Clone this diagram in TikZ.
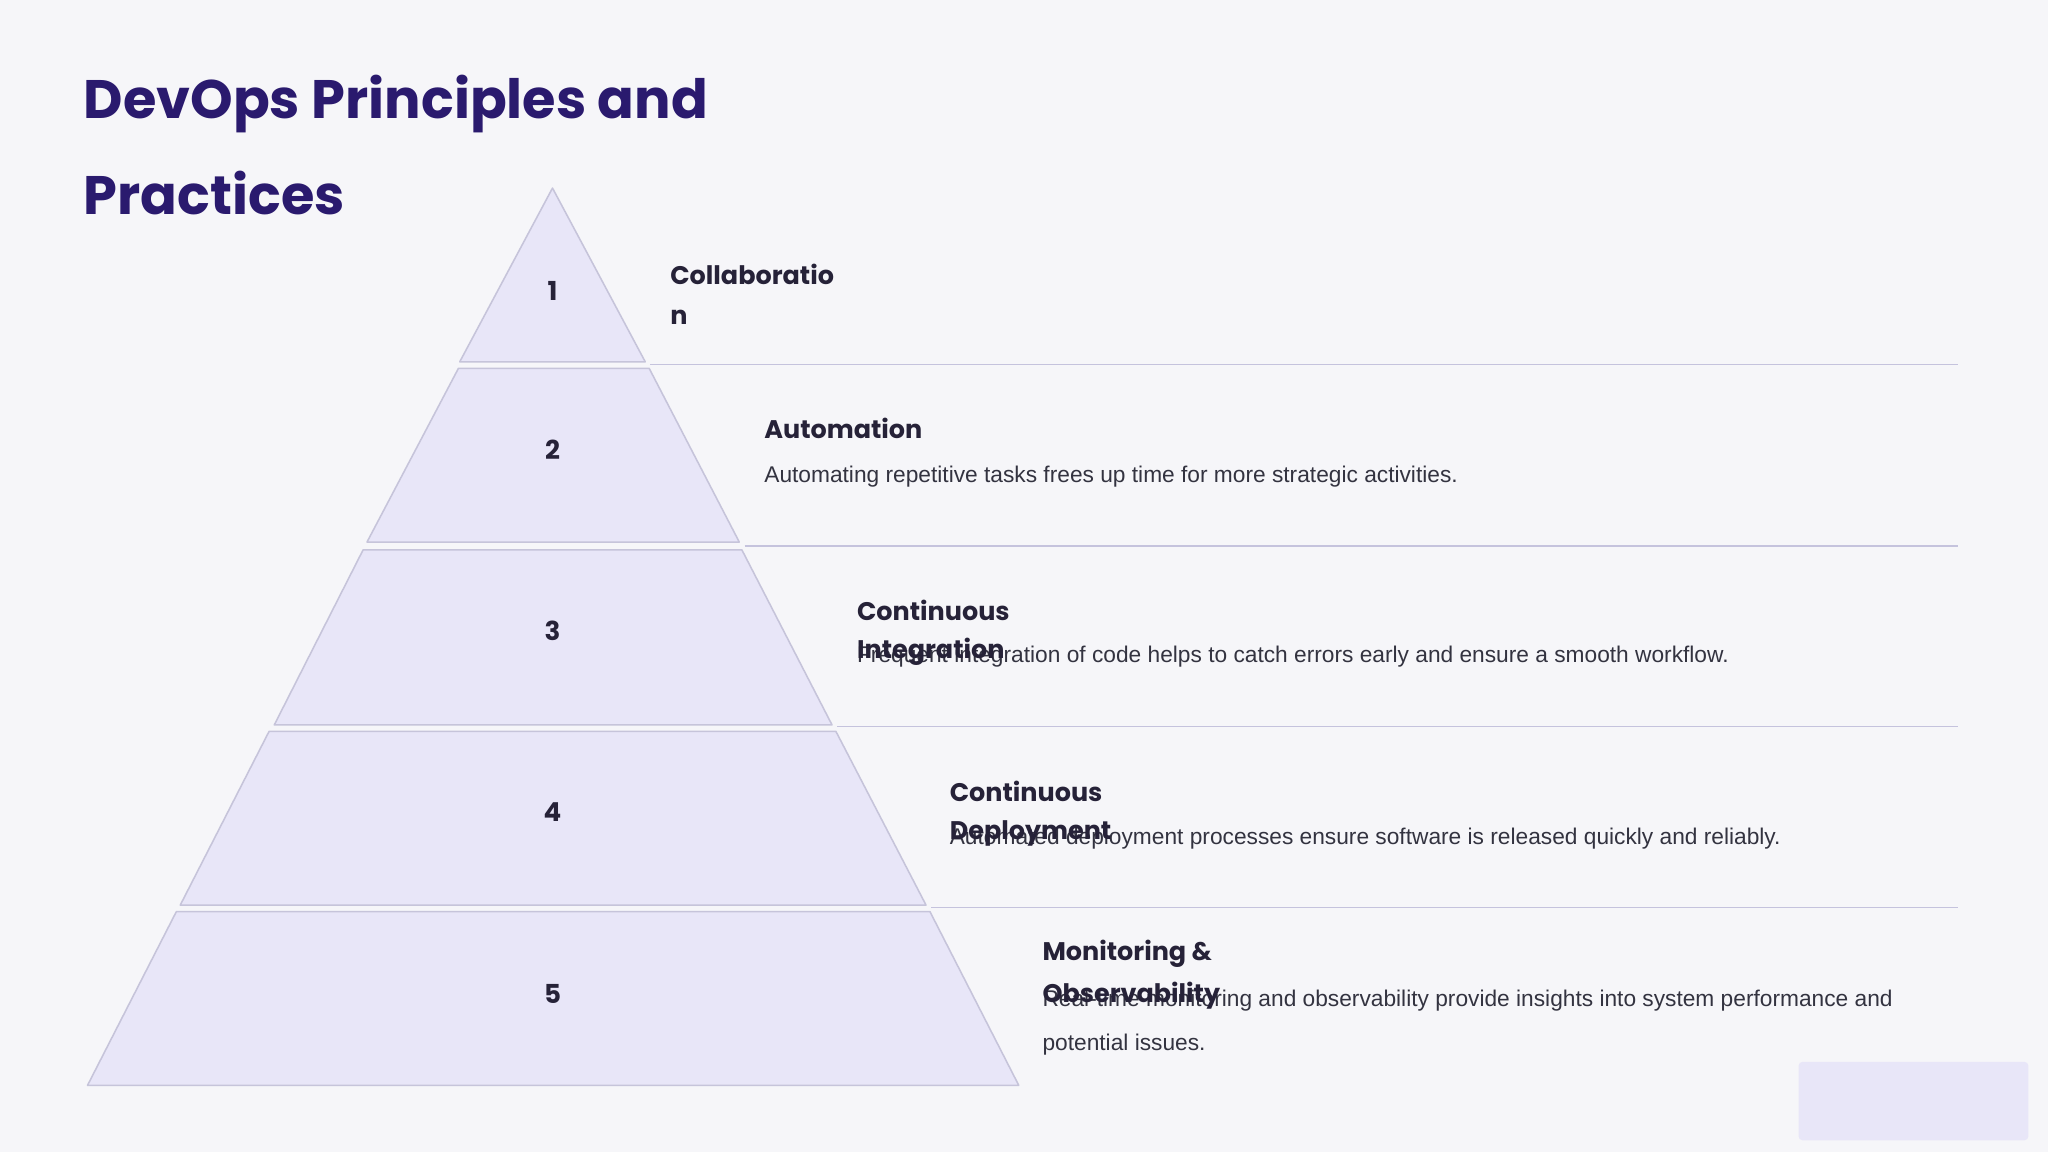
\documentclass[tikz,border=0pt]{standalone}
\usepackage{fontspec}
\setmainfont{Liberation Sans}
\newfontfamily\pop{Poppins}
\definecolor{bg}{HTML}{F6F6F9}
\definecolor{tit}{HTML}{2A1A6E}
\definecolor{hd}{HTML}{262238}
\definecolor{lay}{HTML}{E8E6F8}
\definecolor{lays}{HTML}{C6C4DA}
\definecolor{sep}{HTML}{C5C3DD}
\definecolor{tx}{HTML}{333340}
\begin{document}
\begin{tikzpicture}[x=1pt,y=-1pt,
  layer/.style={fill=lay,draw=lays,line width=1.2pt,line join=round},
  num/.style={font=\pop\bfseries\fontsize{20}{24}\selectfont,text=hd},
  head/.style={anchor=west,inner sep=0,font=\pop\bfseries\fontsize{19.5}{24}\selectfont,text=hd},
  desc/.style={anchor=west,inner sep=0,font=\fontsize{17.4}{20}\selectfont,text=tx},
  sepl/.style={draw=sep,line width=1pt}]
\fill[bg] (0,0) rectangle (1568,882);
\useasboundingbox (0,0) rectangle (1568,882);
\node[anchor=west,inner sep=0,font=\pop\bfseries\fontsize{41.5}{50}\selectfont,text=tit] (t1) at (64,80) {DevOps Principles and};
\node[anchor=west,inner sep=0,font=\pop\bfseries\fontsize{41.5}{50}\selectfont,text=tit] (t2) at (64,148) {Practices};
\draw[layer] (423,144) -- (494,277) -- (352,277) -- cycle;
\draw[layer] (351,282) -- (497,282) -- (566,415) -- (281,415) -- cycle;
\draw[layer] (278,421) -- (568,421) -- (637,555) -- (210,555) -- cycle;
\draw[layer] (206,560) -- (640,560) -- (709,693) -- (138,693) -- cycle;
\draw[layer] (135,698) -- (712,698) -- (780,831) -- (67,831) -- cycle;
\node[num] (n1) at (423,223) {1};
\node[num] (n2) at (423,344) {2};
\node[num] (n3) at (423,483) {3};
\node[num] (n4) at (423,622) {4};
\node[num] (n5) at (423,761) {5};
\coordinate (s1a) at (498,279); \coordinate (s1b) at (1499,279);
\coordinate (s2a) at (570,418); \coordinate (s2b) at (1499,418);
\coordinate (s3a) at (641,556); \coordinate (s3b) at (1499,556);
\coordinate (s4a) at (713,695); \coordinate (s4b) at (1499,695);
\draw[sepl] (s1a) -- (s1b);
\draw[sepl] (s2a) -- (s2b);
\draw[sepl] (s3a) -- (s3b);
\draw[sepl] (s4a) -- (s4b);
\node[head] (h1a) at (513,210) {Collaboratio};
\node[head] (h1b) at (513,243) {n};
\node[head] (h2) at (585,328) {Automation};
\node[desc] (d2) at (585,365) {Automating repetitive tasks frees up time for more strategic activities.};
\node[desc] (d3) at (656,503) {Frequent integration of code helps to catch errors early and ensure a smooth workflow.};
\node[head] (h3a) at (656,467) {Continuous};
\node[head] (h3b) at (656,499) {Integration};
\node[desc] (d4) at (727,642) {Automated deployment processes ensure software is released quickly and reliably.};
\node[head] (h4a) at (727,606) {Continuous};
\node[head] (h4b) at (727,638) {Deployment};
\node[desc] (d5a) at (798,766) {Real-time monitoring and observability provide insights into system performance and};
\node[desc] (d5b) at (798,800) {potential issues.};
\node[head] (h5a) at (798,730) {Monitoring \&};
\node[head] (h5b) at (798,762) {Observability};
\fill[lay,rounded corners=3pt] (1377,813) rectangle (1553,873);
\end{tikzpicture}
\end{document}
